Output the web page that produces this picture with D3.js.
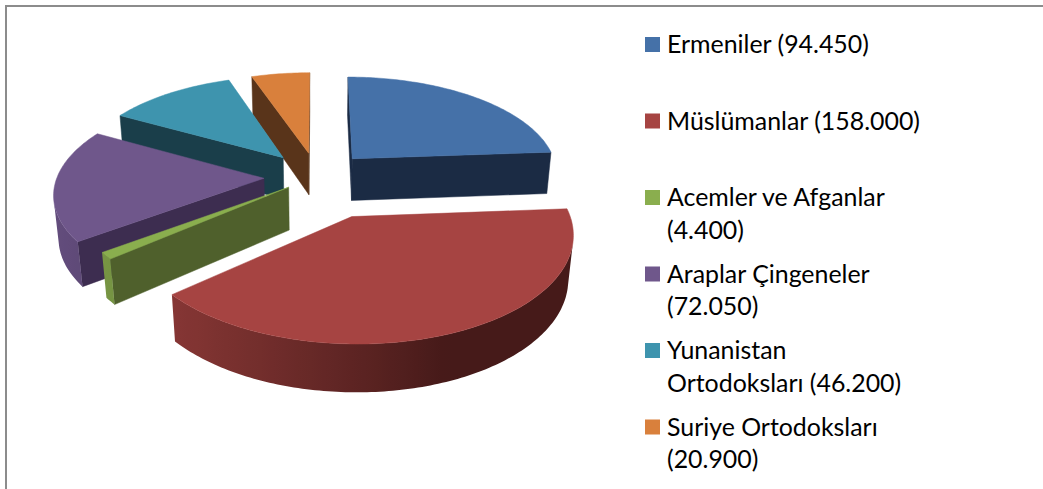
<!DOCTYPE html>
<html>
<head>
<meta charset="utf-8">
<script src="https://cdn.jsdelivr.net/npm/d3@7"></script>
<style>
  html, body { margin: 0; padding: 0; background: #fff; }
  svg { display: block; }
</style>
</head>
<body>
<div id="chart"></div>
<script>
// data
const categories = ["Ermeniler", "Müslümanlar", "Acemler ve Afganlar", "Araplar Çingeneler", "Yunanistan Ortodoksları", "Suriye Ortodoksları"];
const values = [94450, 158000, 4400, 72050, 46200, 20900];

// slice styling
const topColors  = ["#4571A8", "#A64442", "#8AAE4E", "#6F578B", "#3E94AE", "#D9803C"];
const darkColors = ["#1B2B44", "#461A19", "#4F602C", "#3D2D50", "#1A3E4A", "#59341A"];
const explodeBy  = [52, 85, 35, 52, 53, 51];

const width = 1043, height = 489;

const svg = d3.select("#chart")
    .append("svg")
    .attr("width", width)
    .attr("height", height);
const defs = svg.append("defs");

// frame (only top and left edges show)
svg.append("path")
    .attr("d", `M6,${height} L6,6 L${width},6`)
    .attr("fill", "none")
    .attr("stroke", "#8c8c8c")
    .attr("stroke-width", 2);

// 3D set-up
const cx = 317, cy = 219;
const R = 203, depth = 48;
const tilt = 30 * Math.PI / 180;
const dist = 1300;
const s = Math.sin(tilt), c = Math.cos(tilt);
const eye = [0, dist * c, dist * s];

function proj(X, Y, Z) {
    const v = Y * s - Z * c;
    const w = Y * c + Z * s;
    const k = dist / (dist - w);
    return [cx + X * k, cy + v * k];
}
const dir = a => [Math.sin(a), -Math.cos(a)];

const pie = d3.pie().sort(null).value(d => d)(values);

const slices = pie.map((p, i) => {
    const m = (p.startAngle + p.endAngle) / 2;
    const [dx, dy] = dir(m);
    const o = [dx * explodeBy[i], dy * explodeBy[i]];
    const key = o[1] + 0.5 * R * dy;
    return { i, a0: p.startAngle, a1: p.endAngle, o, key };
}).sort((a, b) => a.key - b.key);

const line = pts => "M" + pts.map(p => p[0].toFixed(2) + "," + p[1].toFixed(2)).join("L") + "Z";

function visible(n, P) {
    return n[0] * (eye[0] - P[0]) + n[1] * (eye[1] - P[1]) > 0;
}

// how much of the top colour the curved side keeps, by angle
const sideShade = a => {
    const deg = a * 180 / Math.PI;
    return 0.75 * Math.max(0, Math.cos(0.9 * (deg - 260) * Math.PI / 180));
};

const g = svg.append("g");
const step = Math.PI / 180;

slices.forEach(sl => {
    const { i, a0, a1, o } = sl;
    const gs = g.append("g");
    const rim = a => { const d = dir(a); return [o[0] + R * d[0], o[1] + R * d[1]]; };

    // radial faces
    [[a0, [-Math.cos(a0), -Math.sin(a0)]], [a1, [Math.cos(a1), Math.sin(a1)]]].forEach(([a, n]) => {
        if (!visible(n, o)) return;
        const e = rim(a);
        const pts = [proj(o[0], o[1], depth), proj(e[0], e[1], depth), proj(e[0], e[1], 0), proj(o[0], o[1], 0)];
        gs.append("path").attr("d", line(pts))
            .attr("fill", darkColors[i])
            .attr("stroke", darkColors[i]).attr("stroke-width", 0.5);
    });

    // outer curved side: find the part facing the eye
    const n = Math.max(2, Math.ceil((a1 - a0) / step));
    const angs = d3.range(n + 1).map(k => a0 + (a1 - a0) * k / n)
        .filter(a => visible(dir(a), rim(a)));
    if (angs.length > 1) {
        const topPts = angs.map(a => { const p = rim(a); return proj(p[0], p[1], depth); });
        const botPts = angs.map(a => { const p = rim(a); return proj(p[0], p[1], 0); }).reverse();
        const xA = topPts[0][0], xB = topPts[topPts.length - 1][0];
        const shade = d3.interpolateRgb(darkColors[i], topColors[i]);
        const grad = defs.append("linearGradient")
            .attr("id", "side" + i)
            .attr("gradientUnits", "userSpaceOnUse")
            .attr("x1", xA).attr("y1", 0).attr("x2", xB).attr("y2", 0);
        angs.forEach((a, k) => {
            if (k % 3 && k !== angs.length - 1) return;
            grad.append("stop")
                .attr("offset", (topPts[k][0] - xA) / (xB - xA))
                .attr("stop-color", shade(sideShade(a)));
        });
        gs.append("path").attr("d", line(topPts.concat(botPts)))
            .attr("fill", `url(#side${i})`);
    }

    // top face
    const top = [proj(o[0], o[1], depth)];
    const m = Math.max(2, Math.ceil((a1 - a0) / step));
    for (let k = 0; k <= m; k++) {
        const p = rim(a0 + (a1 - a0) * k / m);
        top.push(proj(p[0], p[1], depth));
    }
    gs.append("path").attr("d", line(top))
        .attr("fill", topColors[i])
        .attr("stroke", topColors[i]).attr("stroke-width", 0.5);
});

// legend
const fmt = d3.formatLocale({ decimal: ",", thousands: ".", grouping: [3], currency: ["", ""] }).format(",");
const labels = categories.map((d, i) => `${d} (${fmt(values[i])})`);

const legend = svg.append("g").attr("font-family", "Lato, 'Open Sans', sans-serif").attr("fill", "#000");

// pick a font size so the first label is as wide as in the reference
const probe = legend.append("text").attr("font-size", 24).text(labels[0]);
const fontSize = 24 * 202 / probe.node().getComputedTextLength();
probe.remove();
legend.attr("font-size", fontSize);

const legX = 645, legTextX = 667, legY0 = 44.5, slot = 76.5, lineH = 32.5, maxW = 254;

labels.forEach((lab, i) => {
    const yc = legY0 + i * slot;
    legend.append("rect")
        .attr("x", legX).attr("y", yc - 7.5)
        .attr("width", 15).attr("height", 15)
        .attr("fill", topColors[i]);

    // wrap words to the legend width
    const t = legend.append("text").attr("x", legTextX);
    const words = lab.split(" ");
    let lines = [], cur = "";
    words.forEach(w => {
        const test = cur ? cur + " " + w : w;
        t.text(test);
        if (t.node().getComputedTextLength() > maxW && cur) { lines.push(cur); cur = w; }
        else cur = test;
    });
    lines.push(cur);
    t.text(null);
    lines.forEach((ln, j) => {
        t.append("tspan")
            .attr("x", legTextX)
            .attr("y", yc + j * lineH)
            .attr("dy", "0.35em")
            .text(ln);
    });
});
</script>
</body>
</html>
